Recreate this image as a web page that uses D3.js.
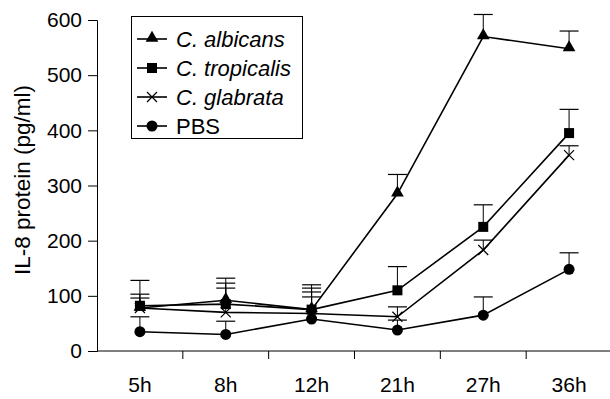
<!DOCTYPE html>
<html>
<head>
<meta charset="utf-8">
<script src="https://cdn.jsdelivr.net/npm/d3@7"></script>
<style>
  body { margin: 0; background: #fff; }
  text { font-family: "Liberation Sans", Arial, sans-serif; fill: #000; }
</style>
</head>
<body>
<div id="chart"></div>
<script>
// time points and IL-8 values (pg/ml), error = upper SD
const categories = ["5h", "8h", "12h", "21h", "27h", "36h"];
const albicans = [78, 92, 75, 285, 570, 548];
const albicansErr = [50, 40, 45, 35, 40, 32];
const tropicalis = [82, 85, 75, 110, 225, 395];
const tropicalisErr = [21, 38, 39, 43, 40, 43];
const glabrata = [78, 70, 68, 62, 183, 355];
const glabrataErr = [18, 44, 39, 18, 18, 17];
const pbs = [35, 30, 58, 38, 65, 148];
const pbsErr = [27, 24, 40, 18, 33, 30];
const yTicks = [0, 100, 200, 300, 400, 500, 600];

const width = 610;
const height = 399;

const svg = d3.select("#chart")
  .append("svg")
  .attr("width", width)
  .attr("height", height);

const x = d3.scaleBand().domain(categories).range([97, 612]);
const y = d3.scaleLinear().domain([0, 600]).range([351, 20]);
const cx = d => x(d) + x.bandwidth() / 2;

const series = [
  { name: "C. albicans", italic: true, values: albicans, err: albicansErr, marker: "triangle" },
  { name: "C. tropicalis", italic: true, values: tropicalis, err: tropicalisErr, marker: "square" },
  { name: "C. glabrata", italic: true, values: glabrata, err: glabrataErr, marker: "cross" },
  { name: "PBS", italic: false, values: pbs, err: pbsErr, marker: "circle" }
];

function drawMarker(g, type, px, py) {
  if (type === "triangle") {
    g.append("path")
      .attr("d", d3.symbol(d3.symbolTriangle, 70)())
      .attr("transform", `translate(${px},${py - 1})`)
      .attr("fill", "#000");
  } else if (type === "square") {
    g.append("rect")
      .attr("x", px - 5).attr("y", py - 5)
      .attr("width", 10).attr("height", 10)
      .attr("fill", "#000");
  } else if (type === "circle") {
    g.append("circle")
      .attr("cx", px).attr("cy", py).attr("r", 5.5)
      .attr("fill", "#000");
  } else {
    g.append("path")
      .attr("d", `M${px - 5},${py - 5}L${px + 5},${py + 5}M${px - 5},${py + 5}L${px + 5},${py - 5}`)
      .attr("stroke", "#000").attr("stroke-width", 1.2);
  }
}

// y axis
const yAxis = svg.append("g")
  .attr("transform", "translate(97,0)")
  .call(d3.axisLeft(y).tickValues(yTicks).tickSize(9).tickPadding(6));
yAxis.selectAll("text").attr("font-size", 21);

// x axis: labels at band centres, ticks on band edges
const xAxis = svg.append("g")
  .attr("transform", "translate(0,351)")
  .call(d3.axisBottom(x).tickSize(0).tickPadding(26));
xAxis.selectAll("text").attr("font-size", 21);
xAxis.select(".domain").remove();
svg.append("line")
  .attr("x1", 97).attr("x2", 612).attr("y1", 351).attr("y2", 351)
  .attr("stroke", "#000");
svg.append("g").selectAll("line")
  .data(categories.slice(1))
  .enter().append("line")
  .attr("x1", d => x(d)).attr("x2", d => x(d))
  .attr("y1", 351).attr("y2", 359)
  .attr("stroke", "#000");
svg.selectAll(".domain, .tick line").attr("stroke", "#000");

svg.append("text")
  .attr("transform", "translate(30,180) rotate(-90)")
  .attr("text-anchor", "middle")
  .attr("font-size", 22.5)
  .text("IL-8 protein (pg/ml)");

// error bars
const errG = svg.append("g");
series.forEach(s => {
  categories.forEach((c, i) => {
    const top = y(s.values[i] + s.err[i]);
    errG.append("line")
      .attr("x1", cx(c)).attr("x2", cx(c))
      .attr("y1", y(s.values[i])).attr("y2", top)
      .attr("stroke", "#000").attr("stroke-width", 1);
    errG.append("line")
      .attr("x1", cx(c) - 9.5).attr("x2", cx(c) + 9.5)
      .attr("y1", top).attr("y2", top)
      .attr("stroke", "#000").attr("stroke-width", 1.2);
  });
});

// lines and markers
const line = d3.line().x((d, i) => cx(categories[i])).y(d => y(d));
series.slice().reverse().forEach(s => {
  svg.append("path")
    .attr("d", line(s.values))
    .attr("fill", "none")
    .attr("stroke", "#000")
    .attr("stroke-width", 1.6);
});
series.forEach(s => {
  const g = svg.append("g");
  s.values.forEach((v, i) => drawMarker(g, s.marker, cx(categories[i]), y(v)));
});

// legend
const legend = svg.append("g");
legend.append("rect")
  .attr("x", 131.5).attr("y", 16.5)
  .attr("width", 171).attr("height", 122)
  .attr("fill", "#fff").attr("stroke", "#000");
series.forEach((s, i) => {
  const ly = 39 + i * 29;
  legend.append("line")
    .attr("x1", 137).attr("x2", 167).attr("y1", ly).attr("y2", ly)
    .attr("stroke", "#000").attr("stroke-width", 1.6);
  drawMarker(legend, s.marker, 152, ly);
  legend.append("text")
    .attr("x", 176).attr("y", ly + 8)
    .attr("font-size", 22)
    .attr("font-style", s.italic ? "italic" : "normal")
    .text(s.name);
});
</script>
</body>
</html>
